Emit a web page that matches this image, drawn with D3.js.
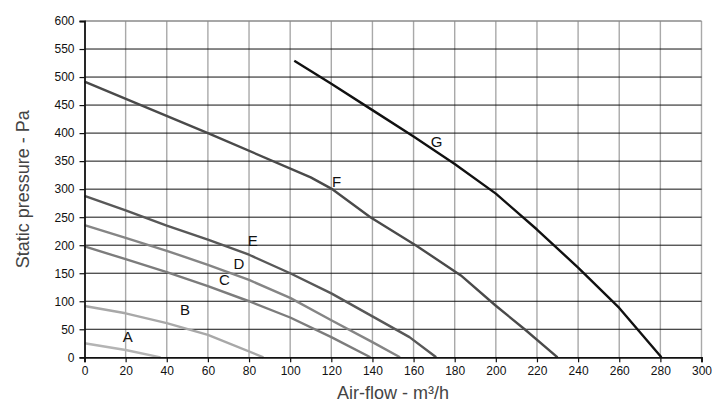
<!DOCTYPE html>
<html>
<head>
<meta charset="utf-8">
<script src="https://cdn.jsdelivr.net/npm/d3@7"></script>
<style>
  html, body { margin: 0; padding: 0; background: #fff; }
  svg { display: block; }
  text { font-family: "Liberation Sans", Arial, sans-serif; }
</style>
</head>
<body>
<svg id="chart" width="723" height="410"></svg>
<script>
// ---- data ----
const xTicks = [0, 20, 40, 60, 80, 100, 120, 140, 160, 180, 200, 220, 240, 260, 280, 300];
const yTicks = [0, 50, 100, 150, 200, 250, 300, 350, 400, 450, 500, 550, 600];

const curveA = [[0, 25], [20, 13], [37, 0]];
const curveB = [[0, 91.5], [20, 78.5], [40, 61], [60, 40], [87, 0]];
const curveC = [[0, 198], [20, 175], [40, 152], [60, 127], [80, 100], [100, 71], [120, 36], [139, 0]];
const curveD = [[0, 236], [20, 213], [40, 190], [60, 165], [80, 138], [100, 106], [120, 66], [140, 27], [153.4, 0]];
const curveE = [[0, 288], [20, 262], [40, 235], [60, 210], [80, 183], [100, 150], [120, 114], [140, 73], [158, 36], [171, 0]];
const curveF = [[0, 492], [60, 400], [110, 321], [120, 301], [139, 250], [161, 200], [183, 146], [200, 92], [214, 50], [230, 0]];
const curveG = [[102, 529], [120, 488], [140, 441], [160, 394], [180, 345], [200, 292], [220, 228], [240, 160], [260, 88], [280.5, 0]];

const curveNames = ["A", "B", "C", "D", "E", "F", "G"];
const curveData = [curveA, curveB, curveC, curveD, curveE, curveF, curveG];
const curveColors = ["#b4b4b4", "#a8a8a8", "#7c7c7c", "#858585", "#585858", "#4a4a4a", "#111111"];
const labelPos = [[21, 36.7], [48.9, 85.6], [68, 138], [75.1, 167.7], [81.8, 208], [122.6, 313.3], [171.2, 384.7]];

const xTitle = "Air-flow - m³/h";
const yTitle = "Static pressure - Pa";

// ---- drawing ----
const svg = d3.select("#chart");
const x = d3.scaleLinear().domain([0, 300]).range([84.5, 701.5]);
const y = d3.scaleLinear().domain([0, 600]).range([357.3, 21]);

// vertical grid (gray)
svg.append("g").selectAll("line").data(xTicks.filter(d => d > 0)).join("line")
  .attr("x1", d => x(d)).attr("x2", d => x(d))
  .attr("y1", y(0)).attr("y2", y(600))
  .attr("stroke", "#a9a9a9").attr("stroke-width", 1.4);

// horizontal grid (black)
svg.append("g").selectAll("line").data(yTicks.filter(d => d > 0 && d < 600)).join("line")
  .attr("x1", x(0)).attr("x2", x(300))
  .attr("y1", d => y(d)).attr("y2", d => y(d))
  .attr("stroke", "#111").attr("stroke-width", 1);

// top border gray
svg.append("line")
  .attr("x1", x(0)).attr("x2", x(300)).attr("y1", y(600)).attr("y2", y(600))
  .attr("stroke", "#8a8a8a").attr("stroke-width", 1.3);

// curves
const line = d3.line().x(d => x(d[0])).y(d => y(d[1]));
svg.append("g").selectAll("path").data(curveData).join("path")
  .attr("d", line)
  .attr("fill", "none")
  .attr("stroke", (d, i) => curveColors[i])
  .attr("stroke-width", 2.4)
  .attr("stroke-linejoin", "round");

// axes
const xAxis = d3.axisBottom(x).tickValues(xTicks).tickSize(5).tickPadding(4);
const yAxis = d3.axisLeft(y).tickValues(yTicks).tickSize(5).tickPadding(5);

const gx = svg.append("g").attr("transform", `translate(0,${y(0)})`).call(xAxis);
const gy = svg.append("g").attr("transform", `translate(${x(0)},0)`).call(yAxis);

[gx, gy].forEach(g => {
  g.select(".domain").attr("stroke", "#111").attr("stroke-width", 1.8);
  g.selectAll(".tick line").attr("stroke", "#111").attr("stroke-width", 1.2);
  g.selectAll(".tick text")
    .attr("font-family", "'Liberation Sans', Arial, sans-serif")
    .attr("font-size", 12).attr("fill", "#111");
});

// curve labels
svg.append("g").selectAll("text").data(curveNames).join("text")
  .attr("x", (d, i) => x(labelPos[i][0]))
  .attr("y", (d, i) => y(labelPos[i][1]))
  .attr("text-anchor", "middle")
  .attr("dominant-baseline", "central")
  .attr("font-size", 15)
  .attr("fill", "#111")
  .text(d => d);

// axis titles
svg.append("text")
  .attr("x", (x(0) + x(300)) / 2)
  .attr("y", 393)
  .attr("text-anchor", "middle")
  .attr("dominant-baseline", "central")
  .attr("font-family", "Roboto, 'Liberation Sans', sans-serif")
  .attr("font-weight", 300)
  .attr("font-size", 18)
  .attr("fill", "#444")
  .text(xTitle);

svg.append("text")
  .attr("transform", `translate(23,${(y(0) + y(600)) / 2}) rotate(-90)`)
  .attr("text-anchor", "middle")
  .attr("dominant-baseline", "central")
  .attr("font-family", "Roboto, 'Liberation Sans', sans-serif")
  .attr("font-weight", 300)
  .attr("font-size", 18)
  .attr("fill", "#444")
  .text(yTitle);
</script>
</body>
</html>
